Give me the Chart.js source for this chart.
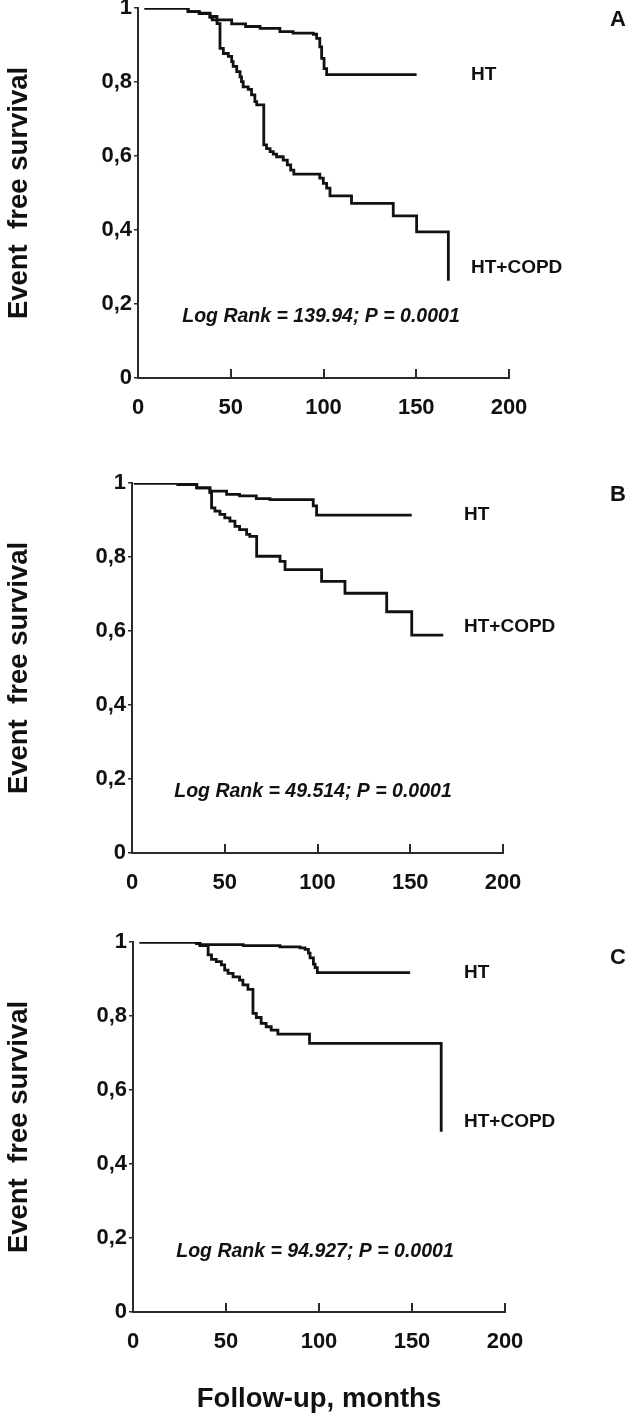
<!DOCTYPE html>
<html>
<head>
<meta charset="utf-8">
<script src="https://cdn.jsdelivr.net/npm/chart.js@4.4.1/dist/chart.umd.min.js"></script>
<style>
  html, body { margin: 0; padding: 0; background: #fff; }
  body { width: 629px; height: 1425px; position: relative; overflow: hidden; }
  canvas { position: absolute; left: 0; }
</style>
</head>
<body>
<canvas id="chartA" width="629" height="450" style="top:-8px"></canvas>
<canvas id="chartB" width="629" height="450" style="top:467px"></canvas>
<canvas id="chartC" width="629" height="499" style="top:926px"></canvas>
<script>
const xTickValues = [0, 50, 100, 150, 200];
const xTickLabels = ["0", "50", "100", "150", "200"];
const yTickLabels = ["0", "0,2", "0,4", "0,6", "0,8", "1"];
const seriesNames = ["HT", "HT+COPD"];
const panelLetters = ["A", "B", "C"];
const logRankTexts = [
    "Log Rank = 139.94; P = 0.0001",
    "Log Rank = 49.514; P = 0.0001",
    "Log Rank = 94.927; P = 0.0001",
];
const yTitle = "Event  free survival";
const xTitle = "Follow-up, months";

// panel A
const aHtMonths = [3.5, 27, 33, 38.8, 40, 50.5, 58, 65.8, 76.5, 83.6, 94.5, 96.3, 98, 99, 100.3, 101.7, 150.2];
const aHtSurvival = [1, 0.99, 0.985, 0.975, 0.968, 0.957, 0.95, 0.945, 0.936, 0.932, 0.929, 0.918, 0.895, 0.864, 0.836, 0.82, 0.82];
const aCopdMonths = [3.5, 27, 33, 38.8, 42.6, 44.2, 46, 48.7, 50.5, 51.3, 53.2, 55, 55.8, 56.7, 59.4, 61.2, 63, 64, 67.8, 69.3, 71.2, 72.9, 74.7, 78.3, 80.5, 82.3, 84, 98, 99.9, 101.7, 103.5, 115.1, 137.6, 150.2, 167.3];
const aCopdSurvival = [1, 0.99, 0.986, 0.977, 0.958, 0.891, 0.877, 0.869, 0.855, 0.842, 0.828, 0.814, 0.801, 0.787, 0.78, 0.765, 0.747, 0.738, 0.63, 0.62, 0.612, 0.605, 0.598, 0.589, 0.576, 0.562, 0.551, 0.54, 0.526, 0.513, 0.492, 0.472, 0.438, 0.395, 0.263];

// panel B
const bHtMonths = [1, 24.8, 34.9, 42, 51, 58, 67, 74.4, 97.7, 99.5, 150.8];
const bHtSurvival = [1, 0.996, 0.987, 0.978, 0.969, 0.965, 0.958, 0.955, 0.938, 0.913, 0.913];
const bCopdMonths = [1, 24.8, 34.9, 42, 42.9, 44.7, 47.4, 50, 52.8, 55.5, 58, 61.8, 63.5, 67.2, 79.8, 82.5, 102.2, 114.8, 137.3, 150.8, 167.8];
const bCopdSurvival = [1, 0.996, 0.987, 0.974, 0.933, 0.924, 0.915, 0.906, 0.897, 0.883, 0.874, 0.861, 0.856, 0.802, 0.788, 0.766, 0.734, 0.702, 0.652, 0.589, 0.589];

// panel C
const cHtMonths = [3.5, 34.2, 36, 59.3, 79, 89.8, 92.5, 94.3, 95.2, 97, 97.9, 99.1, 149];
const cHtSurvival = [1, 0.996, 0.993, 0.99, 0.987, 0.984, 0.98, 0.97, 0.957, 0.94, 0.931, 0.917, 0.917];
const cCopdMonths = [3.5, 34.2, 36, 40.4, 42.2, 44.8, 47.5, 49.3, 51.1, 53.8, 57.3, 59.1, 61.8, 64.5, 66.3, 68.9, 71.6, 74.3, 77.9, 94.9, 165.7];
const cCopdSurvival = [1, 0.996, 0.99, 0.965, 0.953, 0.947, 0.938, 0.924, 0.915, 0.906, 0.897, 0.884, 0.872, 0.807, 0.796, 0.78, 0.771, 0.762, 0.751, 0.726, 0.487];

const FONT = '"Liberation Sans", Arial, sans-serif';
const INK = "#111";
const AXIS = "#2b2b2b";

Chart.defaults.font.family = FONT;
Chart.defaults.color = INK;

const toPoints = (months, surv) => months.map((m, i) => ({ x: m, y: surv[i] }));

// draws the inward x ticks and the in-plot texts
const panelDecor = {
    id: "panelDecor",
    afterDraw(chart, args, opts) {
        const { ctx, chartArea, scales } = chart;
        ctx.save();
        ctx.strokeStyle = AXIS;
        ctx.lineWidth = 2;
        xTickValues.slice(1).forEach((v) => {
            const px = Math.round(scales.x.getPixelForValue(v));
            ctx.beginPath();
            ctx.moveTo(px, chartArea.bottom);
            ctx.lineTo(px, chartArea.bottom - 9);
            ctx.stroke();
        });
        ctx.fillStyle = INK;
        ctx.textBaseline = "middle";
        opts.texts.forEach((t) => {
            ctx.font = t.font;
            ctx.textAlign = t.align;
            ctx.fillText(t.text, chartArea.left + t.dx, chartArea.top + t.dy);
        });
        ctx.restore();
    },
};

function makePanel(id, idx, series, layout) {
    const labelFont = "bold 19px " + FONT;
    const texts = [
        { text: seriesNames[0], dx: layout.ht[0], dy: layout.ht[1], font: labelFont, align: "left" },
        { text: seriesNames[1], dx: layout.copd[0], dy: layout.copd[1], font: labelFont, align: "left" },
        { text: panelLetters[idx], dx: layout.letter[0], dy: layout.letter[1], font: "bold 22px " + FONT, align: "center" },
        { text: logRankTexts[idx], dx: layout.logRank[0], dy: layout.logRank[1], font: "italic bold 19.5px " + FONT, align: "center" },
    ];

    const shared = {
        borderColor: INK,
        borderWidth: 2.8,
        pointRadius: 0,
        stepped: true,
        fill: false,
    };

    return new Chart(document.getElementById(id), {
        type: "line",
        data: {
            datasets: [
                { ...shared, label: seriesNames[0], data: toPoints(series[0], series[1]) },
                { ...shared, label: seriesNames[1], data: toPoints(series[2], series[3]) },
            ],
        },
        options: {
            responsive: false,
            animation: false,
            events: [],
            layout: { padding: { top: 16, right: layout.padRight, bottom: 0, left: 0 } },
            plugins: {
                legend: { display: false },
                tooltip: { enabled: false },
                panelDecor: { texts },
            },
            scales: {
                x: {
                    type: "linear",
                    min: 0,
                    max: 200,
                    afterFit: (s) => { s.height = layout.xHeight; },
                    ticks: {
                        stepSize: 50,
                        padding: 17,
                        maxRotation: 0,
                        font: { size: 22, weight: "bold" },
                        callback: (v) => xTickLabels[xTickValues.indexOf(v)],
                    },
                    grid: { display: false, drawTicks: false },
                    border: { display: true, color: AXIS, width: 2 },
                    title: {
                        display: layout.showXTitle,
                        text: xTitle,
                        font: { size: 27.5, weight: "bold" },
                        padding: { top: 0, bottom: 9 },
                    },
                },
                y: {
                    type: "linear",
                    min: 0,
                    max: 1,
                    afterFit: (s) => { s.width = layout.yWidth; },
                    ticks: {
                        stepSize: 0.2,
                        padding: 2,
                        font: { size: 22, weight: "bold" },
                        callback: (v) => yTickLabels[Math.round(v * 5)],
                    },
                    grid: {
                        drawOnChartArea: false,
                        drawTicks: true,
                        tickLength: 4,
                        color: AXIS,
                        lineWidth: 1.5,
                    },
                    border: { display: true, color: AXIS, width: 2 },
                    title: {
                        display: true,
                        text: yTitle,
                        font: { size: 27.5, weight: "bold" },
                        padding: { top: 3, bottom: 0 },
                    },
                },
            },
        },
        plugins: [panelDecor],
    });
}

makePanel("chartA", 0, [aHtMonths, aHtSurvival, aCopdMonths, aCopdSurvival], {
    yWidth: 138, padRight: 120, xHeight: 64, showXTitle: false,
    ht: [333, 67], copd: [333, 260], letter: [480, 12], logRank: [183, 309],
});
makePanel("chartB", 1, [bHtMonths, bHtSurvival, bCopdMonths, bCopdSurvival], {
    yWidth: 132, padRight: 126, xHeight: 64, showXTitle: false,
    ht: [332, 32], copd: [332, 144], letter: [486, 12], logRank: [181, 309],
});
makePanel("chartC", 2, [cHtMonths, cHtSurvival, cCopdMonths, cCopdSurvival], {
    yWidth: 133, padRight: 124, xHeight: 113, showXTitle: true,
    ht: [331, 31], copd: [331, 180], letter: [485, 16], logRank: [182, 310],
});
</script>
</body>
</html>
